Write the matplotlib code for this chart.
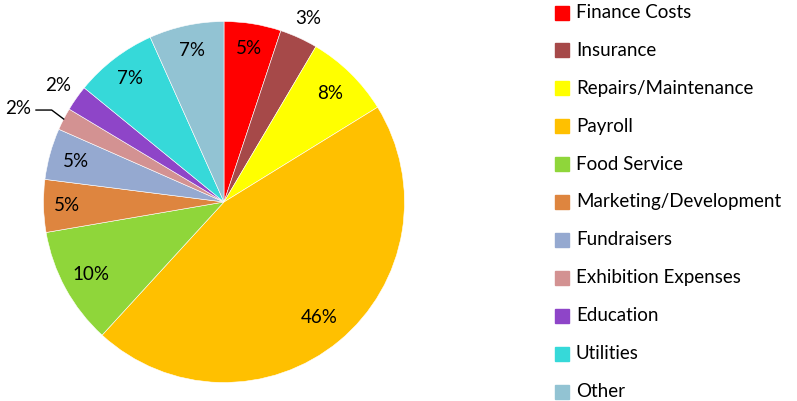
import numpy as np
import matplotlib
matplotlib.use("Agg")
import matplotlib.pyplot as plt

plt.rcParams['font.family'] = ['Lato', 'DejaVu Sans']

# dados (percentagens)
categorias = ["Finance Costs", "Insurance", "Repairs/Maintenance", "Payroll",
              "Food Service", "Marketing/Development", "Fundraisers",
              "Exhibition Expenses", "Education", "Utilities", "Other"]
valores = [5.1, 3.4, 7.7, 45.6, 10.5, 4.7, 4.6, 2.0, 2.3, 7.4, 6.7]
cores = ["#FF0000", "#A64949", "#FFFF00", "#FFC000", "#8FD63A", "#DE853F",
         "#95A9D0", "#D39292", "#8E45C8", "#36D9D9", "#92C3D3"]
# distância do rótulo (fração do raio)
dist_rotulo = [0.86, 1.12, 0.84, 0.83, 0.84, 0.87, 0.85, 1.27, 1.12, 0.86, 0.86]

fig = plt.figure(figsize=(7.97, 4.01), dpi=100)
ax = fig.add_axes([0, 0, 1, 1])
fs = 13.5

cx, cy, r = 224, 199, 180.5
wedges, _ = ax.pie(valores, colors=cores, startangle=90, counterclock=False,
                   center=(cx, cy), radius=r, frame=True,
                   wedgeprops=dict(edgecolor='white', linewidth=0.4))

total = sum(valores)
for w, v, d in zip(wedges, valores, dist_rotulo):
    ang = np.deg2rad((w.theta1 + w.theta2) / 2)
    txt = f"{round(100 * v / total)}%"
    if d > 1.2:
        # rótulo com linha de chamada
        x0, y0 = cx + r * np.cos(ang), cy + r * np.sin(ang)
        tx = cx - 206
        ax.plot([x0, x0 - 12, tx + 18], [y0, y0 + 9, y0 + 9],
                color='black', lw=1)
        ax.text(tx, y0 + 11, txt, ha='center', va='center', fontsize=fs)
    else:
        ax.text(cx + d * r * np.cos(ang), cy + d * r * np.sin(ang), txt,
                ha='center', va='center', fontsize=fs)

# legenda desenhada à mão
for i, (nome, cor) in enumerate(zip(categorias, cores)):
    y = 401 - (12.5 + i * 37.9)
    ax.add_patch(plt.Rectangle((555, y - 7), 14, 14, color=cor))
    ax.text(576, y, nome, ha='left', va='center', fontsize=fs)

ax.set_xlim(0, 797)
ax.set_ylim(0, 401)
ax.set_aspect('equal')
ax.axis('off')

fig.savefig("out.png", dpi=100)
